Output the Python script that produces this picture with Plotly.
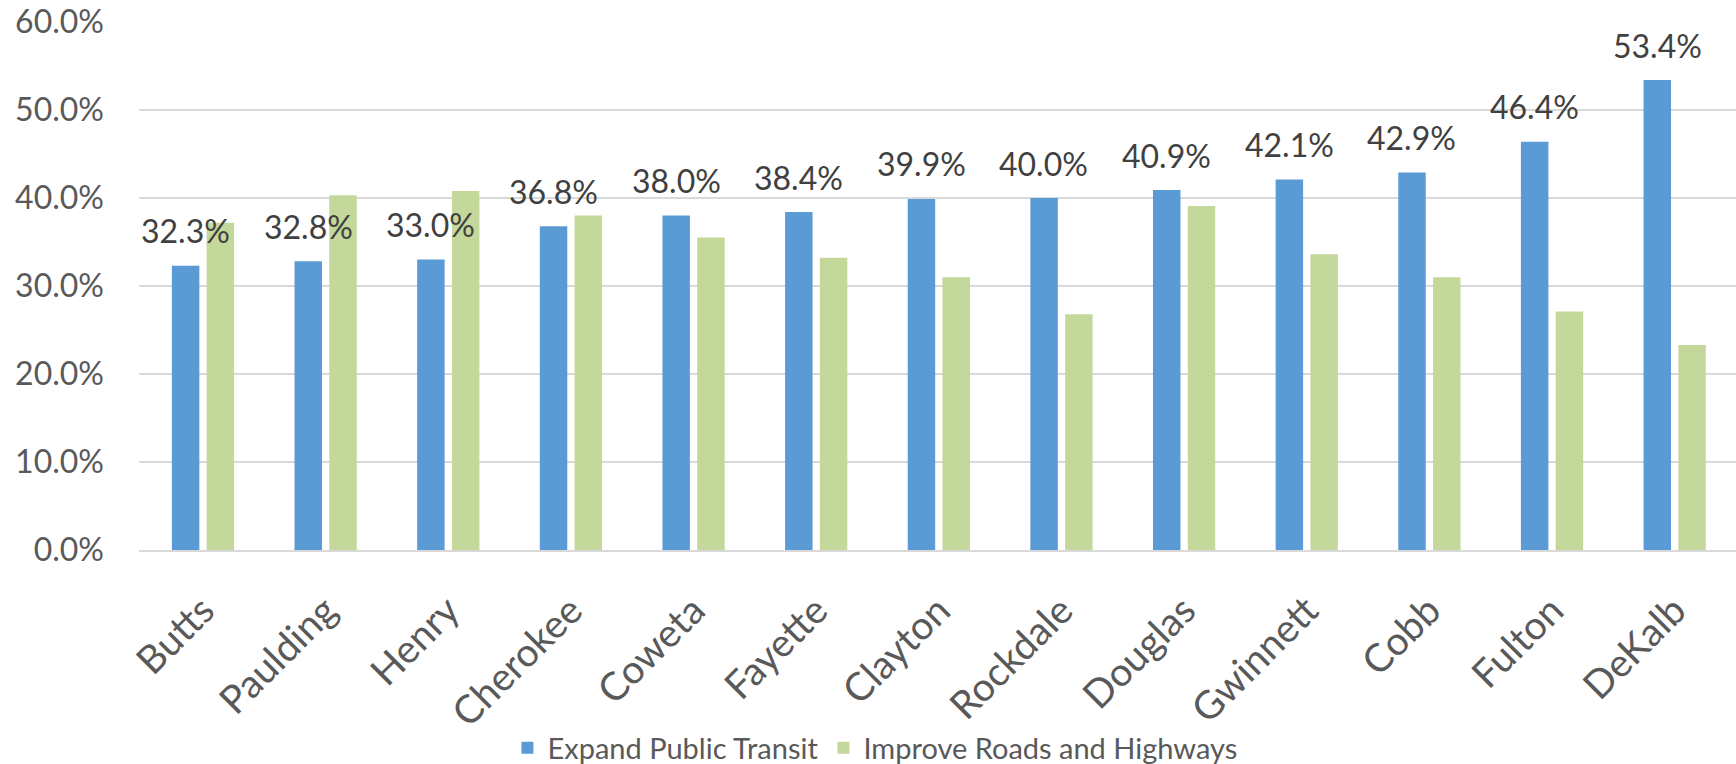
import plotly.graph_objects as go

counties = ["Butts", "Paulding", "Henry", "Cherokee", "Coweta", "Fayette", "Clayton",
            "Rockdale", "Douglas", "Gwinnett", "Cobb", "Fulton", "DeKalb"]
transit = [32.3, 32.8, 33.0, 36.8, 38.0, 38.4, 39.9, 40.0, 40.9, 42.1, 42.9, 46.4, 53.4]
roads = [37.2, 40.3, 40.8, 38.0, 35.5, 33.2, 31.0, 26.8, 39.1, 33.6, 31.0, 27.1, 23.3]
y_ticks = [0, 10, 20, 30, 40, 50, 60]

FONT = "Lato"
BLUE = "#5b9bd5"
GREEN = "#c5d89b"
GRID = "#d9d9d9"

fig = go.Figure()
fig.add_trace(go.Bar(name="Expand Public Transit", x=counties, y=transit,
                     marker=dict(color=BLUE, line=dict(width=0))))
fig.add_trace(go.Bar(name="Improve Roads and Highways", x=counties, y=roads,
                     marker=dict(color=GREEN, line=dict(width=0))))

# value labels above the transit bars (drawn over the neighbouring bars)
for c, v in zip(counties, transit):
    fig.add_annotation(x=c, y=v, text=f"{v:.1f}%", showarrow=False,
                       xshift=-17.5, yshift=35, yanchor="middle",
                       font=dict(family=FONT, size=32, color="#404040"))

fig.update_layout(
    width=1736, height=764,
    margin=dict(l=139, r=0, t=22, b=214, autoexpand=False),
    paper_bgcolor="white", plot_bgcolor="white",
    barmode="group", bargap=0.433, bargroupgap=0.21,
    font=dict(family=FONT, color="#595959"),
    legend=dict(orientation="h", xref="container", yref="container",
                x=0.504, xanchor="center", y=0.021, yanchor="middle",
                font=dict(family=FONT, size=29, color="#595959"),
                itemwidth=30, tracegroupgap=0),
    xaxis=dict(tickangle=-45, tickfont=dict(size=39, color="#595959"),
               showline=True, linecolor=GRID, linewidth=2, automargin=False,
               ticks="", showgrid=False, ticklabelstandoff=20),
    yaxis=dict(range=[0, 60], tickvals=y_ticks,
               ticktext=[f"{t:.1f}%" for t in y_ticks],
               tickfont=dict(size=32, color="#595959"), automargin=False,
               showgrid=True, gridcolor=GRID, gridwidth=1.5,
               zeroline=False, ticks="", ticklabelstandoff=34),
)

fig.write_html("out.html")
